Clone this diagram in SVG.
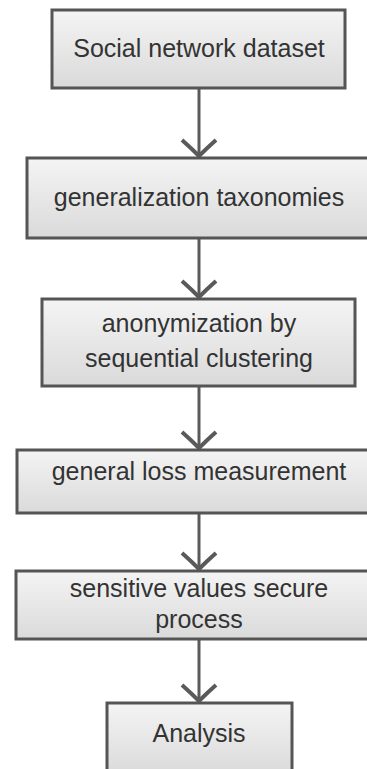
<svg xmlns="http://www.w3.org/2000/svg" width="367" height="769" viewBox="0 0 367 769">
<style>
.box{fill:url(#g);stroke:#555;stroke-width:3}
.t{font-family:"Liberation Sans",Arial,sans-serif;font-size:25px;fill:#333;text-anchor:middle}
.c{stroke:#5a5a5a;stroke-width:3;fill:none}
</style>
<defs>
<linearGradient id="g" x1="0" y1="0" x2="0" y2="1">
<stop offset="0" stop-color="#f4f4f4"/>
<stop offset="1" stop-color="#dadada"/>
</linearGradient>
<marker id="ah" markerUnits="userSpaceOnUse" markerWidth="40" markerHeight="40" refX="20" refY="20" orient="auto" viewBox="0 0 40 40">
<path d="M3 4 Q12 12 20 20 Q28 12 37 4" fill="none" stroke="#5a5a5a" stroke-width="4" transform="rotate(-90 20 20)"/>
</marker>
</defs>
<g id="connectors">
<line class="c" x1="199" y1="88" x2="199" y2="156" marker-end="url(#ah)"/>
<line class="c" x1="199" y1="238" x2="199" y2="297" marker-end="url(#ah)"/>
<line class="c" x1="199" y1="386" x2="199" y2="448" marker-end="url(#ah)"/>
<line class="c" x1="199" y1="513" x2="199" y2="569" marker-end="url(#ah)"/>
<line class="c" x1="199" y1="639" x2="199" y2="701" marker-end="url(#ah)"/>
</g>
<g id="n1"><rect class="box" x="52" y="10" width="293" height="78"/><text class="t" x="199" y="57">Social network dataset</text></g>
<g id="n2"><rect class="box" x="27" y="158" width="345" height="80"/><text class="t" x="199" y="206">generalization taxonomies</text></g>
<g id="n3"><rect class="box" x="42" y="299" width="313" height="87"/><text class="t" x="199" y="332">anonymization by</text><text class="t" x="199" y="367">sequential clustering</text></g>
<g id="n4"><rect class="box" x="17" y="450" width="355" height="63"/><text class="t" x="199" y="480">general loss measurement</text></g>
<g id="n5"><rect class="box" x="16" y="571" width="356" height="68"/><text class="t" x="199" y="597">sensitive values secure</text><text class="t" x="199" y="628">process</text></g>
<g id="n6"><rect class="box" x="107" y="703" width="185" height="72"/><text class="t" x="199" y="742">Analysis</text></g>
</svg>
